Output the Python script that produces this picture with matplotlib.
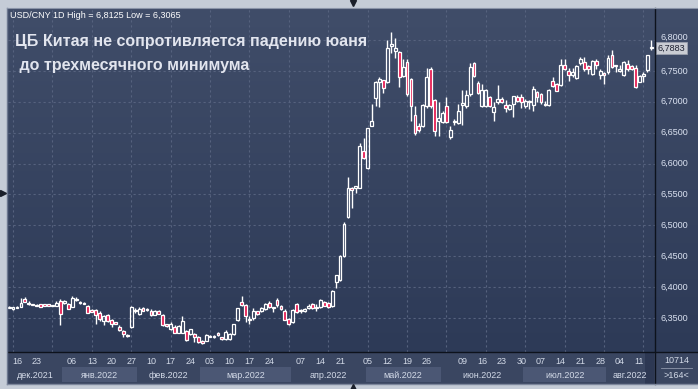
import numpy as np
import pandas as pd
import matplotlib
matplotlib.use("Agg")
import matplotlib.pyplot as plt
from matplotlib.patches import Rectangle
from matplotlib.colors import LinearSegmentedColormap
import matplotlib.transforms as mtransforms

# ---------------- data ----------------
holidays = ["2022-01-03", "2022-01-31", "2022-02-01", "2022-02-02", "2022-02-03",
            "2022-02-04", "2022-04-04", "2022-04-05", "2022-05-02", "2022-05-03",
            "2022-05-04", "2022-06-03"]
dates = pd.bdate_range("2021-12-14", "2022-08-16")
dates = dates[~dates.isin(pd.to_datetime(holidays))]

opens = [6.3665, 6.3647, 6.3665, 6.3685, 6.3815, 6.3745, 6.3720, 6.3710, 6.3728, 6.3712,
         6.3720, 6.3705, 6.3696, 6.3783, 6.3740, 6.3728, 6.3685, 6.3794, 6.3761, 6.3745,
         6.3696, 6.3625, 6.3630, 6.3587, 6.3446, 6.3544, 6.3468, 6.3430, 6.3360, 6.3294,
         6.3229, 6.3348, 6.3636, 6.3566, 6.3663, 6.3636, 6.3620, 6.3555, 6.3620, 6.3544,
         6.3395, 6.3327, 6.3358, 6.3264, 6.3264, 6.3290, 6.3237, 6.3237, 6.3200, 6.3132,
         6.3132, 6.3210, 6.3195, 6.3264, 6.3185, 6.3160, 6.3160, 6.3237, 6.3463, 6.3753,
         6.3711, 6.3474, 6.3500, 6.3606, 6.3606, 6.3642, 6.3747, 6.3674, 6.3790, 6.3695,
         6.3621, 6.3484, 6.3432, 6.3726, 6.3632, 6.3611, 6.3658, 6.3726, 6.3684, 6.3674,
         6.3763, 6.3747, 6.3695, 6.4088, 6.4115, 6.4509, 6.5130, 6.5610, 6.5620, 6.5610,
         6.6203, 6.5923, 6.6608, 6.7056, 6.7325, 6.7353, 6.7325, 6.7908, 6.7820, 6.7800,
         6.7419, 6.7636, 6.7375, 6.6790, 6.6615, 6.6604, 6.6930, 6.7527, 6.7033, 6.6696,
         6.6669, 6.6930, 6.6425, 6.6680, 6.6658, 6.6952, 6.6925, 6.7131, 6.7620, 6.7310,
         6.6930, 6.6930, 6.7077, 6.6832, 6.6995, 6.7050, 6.6952, 6.6887, 6.6968, 6.7077,
         6.7071, 6.6934, 6.7016, 6.6945, 6.7153, 6.7126, 6.6962, 6.6945, 6.7344, 6.7290,
         6.7273, 6.7590, 6.7492, 6.7437, 6.7383, 6.7634, 6.7645, 6.7579, 6.7454, 6.7656,
         6.7437, 6.7454, 6.7481, 6.7765, 6.7590, 6.7492, 6.7426, 6.7618, 6.7579, 6.7546,
         6.7328, 6.7432, 6.7508, 6.7880]
highs = [6.3690, 6.3685, 6.3690, 6.3826, 6.3837, 6.3770, 6.3730, 6.3720, 6.3732, 6.3720,
         6.3725, 6.3715, 6.3770, 6.3805, 6.3794, 6.3740, 6.3859, 6.3848, 6.3780, 6.3755,
         6.3710, 6.3640, 6.3650, 6.3610, 6.3550, 6.3570, 6.3480, 6.3440, 6.3380, 6.3310,
         6.3235, 6.3690, 6.3663, 6.3680, 6.3680, 6.3660, 6.3640, 6.3630, 6.3630, 6.3560,
         6.3410, 6.3432, 6.3380, 6.3380, 6.3527, 6.3310, 6.3330, 6.3250, 6.3210, 6.3140,
         6.3240, 6.3220, 6.3230, 6.3280, 6.3200, 6.3300, 6.3250, 6.3410, 6.3670, 6.3853,
         6.3720, 6.3527, 6.3658, 6.3620, 6.3680, 6.3750, 6.3770, 6.3680, 6.3816, 6.3705,
         6.3640, 6.3500, 6.3650, 6.3750, 6.3650, 6.3670, 6.3720, 6.3735, 6.3726, 6.3810,
         6.3775, 6.3760, 6.3950, 6.4200, 6.4520, 6.5060, 6.5788, 6.5620, 6.5640, 6.6340,
         6.6417, 6.6580, 6.6959, 6.7330, 6.7400, 6.7360, 6.8000, 6.8125, 6.8025, 6.7820,
         6.7700, 6.7700, 6.7390, 6.6930, 6.6660, 6.6960, 6.7550, 6.7570, 6.7040, 6.6995,
         6.6850, 6.7077, 6.6600, 6.6720, 6.6968, 6.7185, 6.7185, 6.7620, 6.7650, 6.7330,
         6.7294, 6.7200, 6.7090, 6.6995, 6.7266, 6.7077, 6.7022, 6.6970, 6.7100, 6.7104,
         6.7126, 6.7050, 6.7033, 6.7251, 6.7180, 6.7150, 6.7016, 6.7210, 6.7400, 6.7310,
         6.7700, 6.7700, 6.7546, 6.7546, 6.7600, 6.7727, 6.7727, 6.7590, 6.7680, 6.7700,
         6.7536, 6.7481, 6.7754, 6.7836, 6.7600, 6.7590, 6.7667, 6.7672, 6.7590, 6.7590,
         6.7426, 6.7480, 6.7760, 6.8000]
lows = [6.3660, 6.3630, 6.3660, 6.3680, 6.3755, 6.3707, 6.3710, 6.3700, 6.3682, 6.3705,
        6.3695, 6.3700, 6.3690, 6.3392, 6.3730, 6.3640, 6.3674, 6.3783, 6.3730, 6.3720,
        6.3580, 6.3590, 6.3400, 6.3446, 6.3380, 6.3430, 6.3360, 6.3395, 6.3290, 6.3200,
        6.3200, 6.3340, 6.3580, 6.3550, 6.3610, 6.3610, 6.3540, 6.3550, 6.3560, 6.3375,
        6.3360, 6.3306, 6.3250, 6.3255, 6.3250, 6.3130, 6.3220, 6.3106, 6.3100, 6.3080,
        6.3120, 6.3185, 6.3180, 6.3215, 6.3140, 6.3140, 6.3150, 6.3220, 6.3450, 6.3690,
        6.3432, 6.3406, 6.3474, 6.3550, 6.3590, 6.3630, 6.3660, 6.3590, 6.3684, 6.3635,
        6.3460, 6.3390, 6.3420, 6.3580, 6.3580, 6.3590, 6.3650, 6.3650, 6.3620, 6.3660,
        6.3690, 6.3665, 6.3680, 6.3980, 6.4100, 6.4490, 6.5120, 6.5280, 6.5520, 6.5600,
        6.6068, 6.5910, 6.6600, 6.6932, 6.6920, 6.7147, 6.7310, 6.7790, 6.7710, 6.7240,
        6.7400, 6.7100, 6.6696, 6.6463, 6.6506, 6.6590, 6.6900, 6.6900, 6.6450, 6.6450,
        6.6650, 6.6650, 6.6400, 6.6620, 6.6640, 6.6626, 6.6900, 6.7100, 6.7400, 6.7130,
        6.6915, 6.6920, 6.6920, 6.6696, 6.6968, 6.6980, 6.6832, 6.6860, 6.6750, 6.7000,
        6.6907, 6.6900, 6.6880, 6.6852, 6.7000, 6.6970, 6.6934, 6.6930, 6.7235, 6.7170,
        6.7260, 6.7510, 6.7344, 6.7399, 6.7370, 6.7600, 6.7492, 6.7454, 6.7440, 6.7536,
        6.7372, 6.7290, 6.7450, 6.7546, 6.7480, 6.7480, 6.7410, 6.7492, 6.7510, 6.7220,
        6.7317, 6.7317, 6.7490, 6.7836]
closes = [6.3680, 6.3680, 6.3685, 6.3745, 6.3760, 6.3730, 6.3715, 6.3705, 6.3685, 6.3710,
          6.3700, 6.3710, 6.3745, 6.3566, 6.3770, 6.3647, 6.3826, 6.3815, 6.3739, 6.3729,
          6.3587, 6.3600, 6.3544, 6.3490, 6.3533, 6.3457, 6.3403, 6.3400, 6.3305, 6.3240,
          6.3207, 6.3685, 6.3609, 6.3652, 6.3620, 6.3632, 6.3544, 6.3610, 6.3566, 6.3380,
          6.3375, 6.3411, 6.3264, 6.3369, 6.3448, 6.3148, 6.3316, 6.3185, 6.3106, 6.3100,
          6.3220, 6.3195, 6.3210, 6.3222, 6.3160, 6.3274, 6.3237, 6.3395, 6.3658, 6.3705,
          6.3527, 6.3469, 6.3606, 6.3563, 6.3658, 6.3726, 6.3674, 6.3658, 6.3711, 6.3642,
          6.3474, 6.3411, 6.3632, 6.3590, 6.3606, 6.3653, 6.3695, 6.3658, 6.3663, 6.3790,
          6.3695, 6.3674, 6.3937, 6.4196, 6.4509, 6.5022, 6.5600, 6.5567, 6.5625, 6.6289,
          6.6085, 6.6571, 6.6689, 6.7315, 6.7369, 6.7228, 6.7875, 6.7930, 6.7875, 6.7400,
          6.7565, 6.7131, 6.6930, 6.6490, 6.6550, 6.6941, 6.7403, 6.6930, 6.6533, 6.6734,
          6.6820, 6.6669, 6.6550, 6.6685, 6.6843, 6.6974, 6.7104, 6.7565, 6.7419, 6.7147,
          6.7185, 6.7185, 6.6930, 6.6914, 6.7039, 6.6995, 6.6898, 6.6941, 6.7087, 6.7012,
          6.7000, 6.7016, 6.7000, 6.7208, 6.7071, 6.6989, 6.6951, 6.7191, 6.7262, 6.7180,
          6.7590, 6.7525, 6.7437, 6.7481, 6.7579, 6.7700, 6.7525, 6.7525, 6.7656, 6.7601,
          6.7492, 6.7450, 6.7710, 6.7563, 6.7585, 6.7536, 6.7645, 6.7525, 6.7525, 6.7235,
          6.7415, 6.7437, 6.7754, 6.7883]

tick_dates = ["2021-12-16", "2021-12-23", "2022-01-06", "2022-01-13", "2022-01-20",
              "2022-01-27", "2022-02-10", "2022-02-17", "2022-02-24", "2022-03-03",
              "2022-03-10", "2022-03-17", "2022-03-24", "2022-04-07", "2022-04-14",
              "2022-04-21", "2022-05-05", "2022-05-12", "2022-05-19", "2022-05-26",
              "2022-06-09", "2022-06-16", "2022-06-23", "2022-06-30", "2022-07-07",
              "2022-07-14", "2022-07-21", "2022-07-28", "2022-08-04", "2022-08-11"]
month_keys = ["2021-12", "2022-01", "2022-02", "2022-03", "2022-04", "2022-05",
              "2022-06", "2022-07", "2022-08"]
month_labels = ["дек.2021", "янв.2022", "фев.2022", "мар.2022", "апр.2022",
                "май.2022", "июн.2022", "июл.2022", "авг.2022"]
price_levels = [6.35, 6.40, 6.45, 6.50, 6.55, 6.60, 6.65, 6.70, 6.75, 6.80]
header = "USD/CNY 1D High = 6,8125 Low = 6,3065"
title1 = "ЦБ Китая не сопротивляется падению юаня"
title2 = " до трехмесячного минимума"
volume_text = "10714"
bars_text = ">164<"

# ---------------- layout ----------------
W, H = 698, 389


def fbox(x0, y0, x1, y1):
    return [x0 / W, 1 - y1 / H, (x1 - x0) / W, (y1 - y0) / H]


fig = plt.figure(figsize=(W / 100, H / 100), dpi=100, facecolor="#c5ccd7")

# gradient panel background
bg = fig.add_axes(fbox(7, 8, 698, 352))
bg.axis("off")
cmap = LinearSegmentedColormap.from_list("bg", ["#404d69", "#2d3a57"])
bg.imshow(np.linspace(0, 1, 256)[:, None], aspect="auto", cmap=cmap,
          extent=[0, 1, 0, 1])
bg.set_xlim(0, 1)
bg.set_ylim(0, 1)

ax = fig.add_axes(fbox(8, 8, 655, 352))
ax.set_facecolor("none")
for s in ax.spines.values():
    s.set_visible(False)
ax.set_xticks([])
ax.set_yticks([])
n = len(closes)
ax.set_xlim(-0.28, 163.93)
ax.set_ylim(6.29498, 6.85180)

grid_c = "#56627e"
for v in price_levels:
    ax.axhline(v, color=grid_c, lw=0.8, ls=(0, (2, 2.5)), zorder=1)
for gi in range(1, n, 10):
    ax.axvline(gi, color=grid_c, lw=0.8, ls=(0, (2, 2.5)), zorder=1)

red = "#e5184e"
min_h = 0.0022
for i in range(n):
    o, h, l, c = opens[i], highs[i], lows[i], closes[i]
    lo, hi = min(o, c), max(o, c)
    if hi - lo < min_h:
        m = (hi + lo) / 2
        lo, hi = m - min_h / 2, m + min_h / 2
    ax.vlines(i, min(l, lo), lo, color="white", lw=1.0, zorder=3)
    ax.vlines(i, hi, max(h, hi), color="white", lw=1.0, zorder=3)
    fc = red if c < o else "none"
    ax.add_patch(Rectangle((i - 0.36, lo), 0.72, hi - lo, facecolor=fc,
                           edgecolor="white", lw=0.9, zorder=4))

# right price scale
tr = mtransforms.blended_transform_factory(ax.transAxes, ax.transData)
for v in price_levels:
    yv = v + (0.0045 if v == price_levels[-1] else 0.0)
    ax.text(1.008, yv, f"{v:.4f}".replace(".", ","), transform=tr, ha="left",
            va="center", fontsize=6.5, color="#dce3f2", family="Liberation Sans",
            clip_on=False)
ax.text(1.004, closes[-1] - 0.0015, f"{closes[-1]:.4f}".replace(".", ","),
        transform=tr, ha="left", va="center", fontsize=6.5, color="#1c2030",
        family="Liberation Sans", clip_on=False, zorder=10,
        bbox=dict(boxstyle="square,pad=0.15", fc="#c9ccd3", ec="#9aa0ad", lw=0.6))

# bottom date strip
bax = fig.add_axes(fbox(8, 352, 655, 384))
bax.set_facecolor("#3a4661")
for s in bax.spines.values():
    s.set_visible(False)
bax.set_xticks([])
bax.set_yticks([])
bax.set_xlim(ax.get_xlim())
bax.set_ylim(0, 1)
mkeys = dates.strftime("%Y-%m")
for k, (key, lab) in enumerate(zip(month_keys, month_labels)):
    idx = np.where(mkeys == key)[0]
    a, b = idx[0] - 0.5, idx[-1] + 0.5
    if k % 2 == 1:
        bax.add_patch(Rectangle((a, 0.05), b - a, 0.47, facecolor="#4b5774",
                                edgecolor="none", zorder=1))
    cx = (max(a, ax.get_xlim()[0]) + min(b, ax.get_xlim()[1])) / 2
    bax.text(cx, 0.27, lab, ha="center", va="center", fontsize=6.5,
             color="#d3dae8", family="Liberation Sans", zorder=3)
bax.add_patch(Rectangle((n - 2.7, 0), 2.4, 1, facecolor="#2a3550",
                        edgecolor="none", alpha=0.8, zorder=2))
date_index = {d.strftime("%Y-%m-%d"): i for i, d in enumerate(dates)}
for td in tick_dates:
    bax.text(date_index[td], 0.7, td[-2:], ha="center", va="center", fontsize=6.5,
             color="#d3dae8", family="Liberation Sans", zorder=3)

# bottom-right corner box
cax = fig.add_axes(fbox(655, 352, 698, 384))
cax.axis("off")
cax.add_patch(Rectangle((0, 0), 1, 1, transform=cax.transAxes, facecolor="#3a4661"))
cax.text(0.5, 0.72, volume_text, ha="center", va="center", fontsize=6.5,
         color="#d3dae8", family="Liberation Sans")
cax.plot([0.15, 0.85], [0.5, 0.5], color="#8e97aa", lw=0.6)
cax.text(0.5, 0.26, bars_text, ha="center", va="center", fontsize=6.5,
         color="#d3dae8", family="Liberation Sans")
cax.set_xlim(0, 1)
cax.set_ylim(0, 1)

# overlay for frame lines and texts (pixel coordinates)
ov = fig.add_axes([0, 0, 1, 1])
ov.set_xlim(0, W)
ov.set_ylim(H, 0)
ov.axis("off")
ov.patch.set_alpha(0)
ov.plot([655, 655], [8, 384], color="#0d121c", lw=1.0)
ov.plot([8, 698], [352, 352], color="#0d121c", lw=1.0)
ov.plot([7, 7], [8, 384], color="#6d7890", lw=1.0)
ov.plot([7, 698], [384, 384], color="#7d879c", lw=1.0)
ov.plot([7, 698], [8, 8], color="#8a94a8", lw=0.8)
ov.plot([353], [3], marker="v", color="#1a1f2a", ms=5)
ov.plot([353], [386.5], marker="^", color="#1a1f2a", ms=5)
ov.plot([2.5], [193], marker=">", color="#1a1f2a", ms=4)

ov.text(10, 15, header, ha="left", va="center", fontsize=6.5, color="white",
        family="Liberation Sans")
ov.text(15, 41, title1, ha="left", va="center", fontsize=11.5, color="#e2e5ee",
        family="Liberation Sans", fontweight="bold")
ov.text(15, 65, title2, ha="left", va="center", fontsize=11.5, color="#e2e5ee",
        family="Liberation Sans", fontweight="bold")

fig.savefig("out.png", dpi=100)
